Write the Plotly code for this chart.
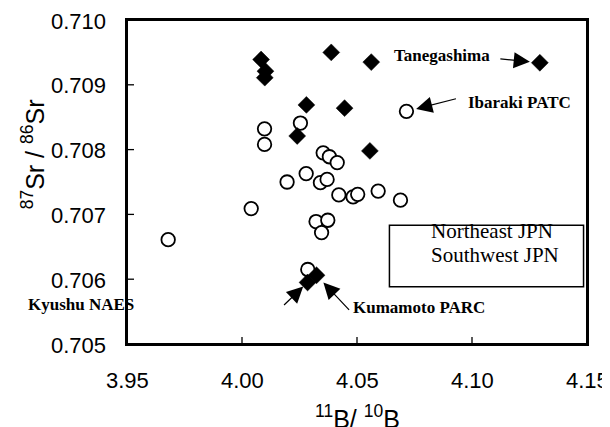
import plotly.graph_objects as go

# Northeast JPN (open circles)
ne_b = [4.0098, 4.0098, 4.0254, 4.0353, 4.0380, 4.0414, 4.0196, 4.0279, 4.0341, 4.0370,
        4.0421, 4.0483, 4.0503, 4.0592, 4.0689, 4.0040, 3.9679, 4.0322, 4.0373, 4.0346,
        4.0286, 4.0715]
ne_sr = [0.70832, 0.70808, 0.70841, 0.70795, 0.70789, 0.70780, 0.70750, 0.70763, 0.70749, 0.70754,
         0.70730, 0.70727, 0.70731, 0.70736, 0.70722, 0.70709, 0.70661, 0.70689, 0.70691, 0.70672,
         0.70615, 0.70859]
ne_names = [""] * 21 + ["Ibaraki PATC"]

# Southwest JPN (filled diamonds)
sw_b = [4.0083, 4.0102, 4.0099, 4.0388, 4.0562, 4.0280, 4.0446, 4.0240, 4.0556, 4.1295,
        4.0285, 4.0324]
sw_sr = [0.70939, 0.70921, 0.70911, 0.70950, 0.70935, 0.70869, 0.70864, 0.70821, 0.70798, 0.70934,
         0.70595, 0.70606]
sw_names = [""] * 9 + ["Tanegashima", "Kyushu NAES", "Kumamoto PARC"]

x_ticks = [3.95, 4.00, 4.05, 4.10, 4.15]
x_ticklabels = ["3.95", "4.00", "4.05", "4.10", "4.15"]
y_ticks = [0.705, 0.706, 0.707, 0.708, 0.709, 0.710]
y_ticklabels = ["0.705", "0.706", "0.707", "0.708", "0.709", "0.710"]

legend_labels = ["Northeast JPN", "Southwest JPN"]

X_RANGE = [x_ticks[0], x_ticks[-1]]
Y_RANGE = [y_ticks[0], y_ticks[-1]]
PLOT_W, PLOT_H = 460, 324
TICK_LEN = 7
dx_tick = (X_RANGE[1] - X_RANGE[0]) * TICK_LEN / PLOT_W
dy_tick = (Y_RANGE[1] - Y_RANGE[0]) * TICK_LEN / PLOT_H

fig = go.Figure()
# plot frame (axis box) following the axis ranges
fig.add_trace(go.Scatter(
    x=[X_RANGE[0], X_RANGE[1], X_RANGE[1], X_RANGE[0], X_RANGE[0]],
    y=[Y_RANGE[0], Y_RANGE[0], Y_RANGE[1], Y_RANGE[1], Y_RANGE[0]],
    mode="lines", line=dict(color="black", width=2), cliponaxis=False,
    hoverinfo="skip", showlegend=False))
fig.add_trace(go.Scatter(
    x=ne_b, y=ne_sr, mode="markers", name=legend_labels[0],
    marker=dict(symbol="circle", size=13.5, color="white", line=dict(color="black", width=1.8)),
    showlegend=False))
fig.add_trace(go.Scatter(
    x=sw_b, y=sw_sr, mode="markers", name=legend_labels[1],
    marker=dict(symbol="diamond", size=13, color="black", line=dict(color="black", width=0.5)),
    showlegend=False))

lab_font = dict(family="Liberation Serif", size=17, color="black")
ann = []

def pt(names, xs, ys, label):
    i = names.index(label)
    return xs[i], ys[i]

# label texts
ann.append(dict(text="<b>Tanegashima</b>", x=4.0654, y=0.70945, xanchor="left", yanchor="middle",
                showarrow=False, font=lab_font))
ann.append(dict(text="<b>Ibaraki PATC</b>", x=4.0972, y=0.708731, xanchor="left", yanchor="middle",
                showarrow=False, font=lab_font))
ann.append(dict(text="<b>Kyushu NAES</b>", x=3.9541, y=0.705611, xanchor="right", yanchor="middle",
                showarrow=False, font=lab_font))
ann.append(dict(text="<b>Kumamoto PARC</b>", x=4.0476, y=0.705557, xanchor="left", yanchor="middle",
                showarrow=False, font=lab_font))

# arrows
arrow_style = dict(showarrow=True, text="", arrowhead=2, arrowsize=2.7, arrowwidth=1.2,
                   arrowcolor="black", axref="pixel", ayref="pixel")
x, y = pt(sw_names, sw_b, sw_sr, "Tanegashima")
ann.append(dict(x=x, y=y, ax=-41, ay=-4, standoff=10, **arrow_style))
x, y = pt(ne_names, ne_b, ne_sr, "Ibaraki PATC")
ann.append(dict(x=x, y=y, ax=51, ay=-13, standoff=10, **arrow_style))
x, y = pt(sw_names, sw_b, sw_sr, "Kyushu NAES")
ann.append(dict(x=x, y=y, ax=-25, ay=24, standoff=6, **arrow_style))
x, y = pt(sw_names, sw_b, sw_sr, "Kumamoto PARC")
ann.append(dict(x=x, y=y, ax=34, ay=36, standoff=10, **arrow_style))

# legend box text
leg_font = dict(family="Liberation Serif", size=21, color="black")
ann.append(dict(text=legend_labels[0], x=4.1085, y=0.706740, xanchor="center", yanchor="middle",
                showarrow=False, font=leg_font))
ann.append(dict(text=legend_labels[1], x=4.1098, y=0.706370, xanchor="center", yanchor="middle",
                showarrow=False, font=leg_font))

# tick labels
tick_font = dict(family="Liberation Sans", size=22, color="black")
for v, t in zip(x_ticks, x_ticklabels):
    ann.append(dict(text=t, x=v, xref="x", y=-36.5 / PLOT_H, yref="paper",
                    xanchor="center", yanchor="middle", showarrow=False, font=tick_font))
for v, t in zip(y_ticks, y_ticklabels):
    ann.append(dict(text=t, x=-19 / PLOT_W, xref="paper", y=v, yref="y",
                    xanchor="right", yanchor="middle", showarrow=False, font=tick_font, yshift=-1))

# axis titles
ax_font = dict(family="Liberation Sans", size=25, color="black")
ann.append(dict(text="<sup>87</sup>Sr / <sup>86</sup>Sr", xref="paper", yref="paper",
                x=-0.204, y=0.586, xanchor="center", yanchor="middle", textangle=-90,
                showarrow=False, font=ax_font))
ann.append(dict(text="<sup>11</sup>B/ <sup>10</sup>B", xref="paper", yref="paper",
                x=0.5, y=-0.225, xanchor="center", yanchor="middle",
                showarrow=False, font=ax_font))

shapes = [
    dict(type="rect", xref="x", yref="y", x0=4.0641, x1=4.1485, y0=0.705885, y1=0.706834,
         line=dict(color="black", width=1.5), fillcolor="rgba(0,0,0,0)", layer="below"),
]
for v in x_ticks[1:-1]:
    shapes.append(dict(type="line", xref="x", yref="y", x0=v, x1=v,
                       y0=Y_RANGE[0], y1=Y_RANGE[0] + dy_tick,
                       line=dict(color="black", width=1.3), layer="above"))
for v in y_ticks[1:-1]:
    shapes.append(dict(type="line", xref="x", yref="y", x0=X_RANGE[0], x1=X_RANGE[0] + dx_tick,
                       y0=v, y1=v, line=dict(color="black", width=1.3), layer="above"))

# page body keeps an 8px margin, so the figure is sized to fit inside the window
fig.update_layout(
    width=602, height=419,
    margin=dict(l=119, r=23, t=12, b=83, autoexpand=False),
    paper_bgcolor="white", plot_bgcolor="white",
    annotations=ann,
    shapes=shapes,
)
fig.update_xaxes(range=X_RANGE, automargin=False, showticklabels=False, ticks="",
                 showgrid=False, zeroline=False, showline=True, linecolor="black", linewidth=2,
                 mirror=True)
fig.update_yaxes(range=Y_RANGE, automargin=False, showticklabels=False, ticks="",
                 showgrid=False, zeroline=False, showline=True, linecolor="black", linewidth=2,
                 mirror=True)

fig.write_html("out.html")
